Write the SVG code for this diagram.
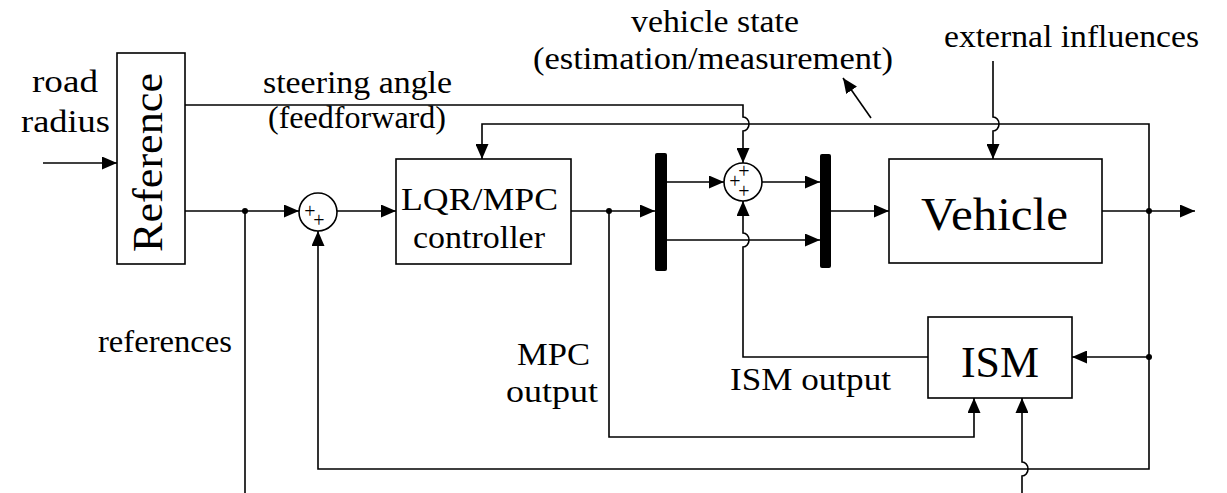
<svg xmlns="http://www.w3.org/2000/svg" width="1227" height="493" viewBox="0 0 1227 493">
<style>
.box{fill:#fff;stroke:#000;stroke-width:1.6}
.bar{fill:#000}
.ln{fill:none;stroke:#000;stroke-width:1.6}
.ar{marker-end:url(#ah)}
.t{font-family:"Liberation Serif","Times New Roman",serif;fill:#000;font-size:31px}
.pl{font-family:"Liberation Serif",serif;font-size:20px;fill:#000;text-anchor:middle}
.dot{fill:#000}
</style>
<defs>
<marker id="ah" viewBox="0 0 15 13" refX="15" refY="6.5" markerWidth="15" markerHeight="13" markerUnits="userSpaceOnUse" orient="auto">
<path d="M0,0 L15,6.5 L0,13 z" fill="#000"/>
</marker>
</defs>
<rect width="1227" height="493" fill="#fff"/>

<g id="connectors">
<path class="ln ar" d="M43,163 L117,163"/>
<path class="ln ar" d="M185,105 L743,105 L743,117 A6 7 0 0 1 743,131 L743,163"/>
<path class="ln ar" d="M185,211 L299,211"/>
<path class="ln" d="M245,211 L245,493"/>
<path class="ln ar" d="M337,211 L396,211"/>
<path class="ln ar" d="M571,211 L655,211"/>
<path class="ln ar" d="M609,211 L609,437 L974,437 L974,398"/>
<path class="ln ar" d="M667,182 L724,182"/>
<path class="ln ar" d="M667,240 L820,240"/>
<path class="ln ar" d="M762,182 L820,182"/>
<path class="ln ar" d="M831,211 L889,211"/>
<path class="ln ar" d="M1102,211 L1195,211"/>
<path class="ln ar" d="M1149,357 L1149,124 L482,124 L482,159"/>
<path class="ln ar" d="M1149,357 L1149,469 L318,469 L318,231"/>
<path class="ln ar" d="M1149,357 L1072,357"/>
<path class="ln ar" d="M928,357 L743,357 L743,247 A6 7 0 0 0 743,233 L743,201"/>
<path class="ln ar" d="M993,61 L993,117 A6 7 0 0 1 993,131 L993,159"/>
<path class="ln ar" d="M1022,493 L1022,476 A6 7 0 0 0 1022,462 L1022,398"/>
<path class="ln ar" d="M871,118 L843,78"/>
<circle class="dot" cx="245" cy="211" r="3"/>
<circle class="dot" cx="609" cy="211" r="3"/>
<circle class="dot" cx="1149" cy="211" r="3"/>
<circle class="dot" cx="1149" cy="357" r="3"/>
</g>

<g id="reference">
<rect class="box" x="117" y="53" width="68" height="211"/>
<text class="t" style="font-size:43px" text-anchor="middle" textLength="179" lengthAdjust="spacingAndGlyphs" transform="translate(162,162.5) rotate(-90)">Reference</text>
</g>

<g id="sum1">
<circle class="box" cx="318" cy="212" r="19"/>
<text class="pl" x="310" y="218">+</text>
<text class="pl" x="319" y="227">+</text>
</g>

<g id="controller">
<rect class="box" x="396" y="159" width="175" height="105"/>
<text class="t" x="401" y="210" textLength="157" lengthAdjust="spacingAndGlyphs">LQR/MPC</text>
<text class="t" x="413" y="248" textLength="132" lengthAdjust="spacingAndGlyphs">controller</text>
</g>

<g id="mux1">
<rect class="bar" x="655" y="153" width="12" height="118" rx="2"/>
</g>

<g id="sum2">
<circle class="box" cx="743" cy="182" r="19"/>
<text class="pl" x="744" y="178">+</text>
<text class="pl" x="735" y="188">+</text>
<text class="pl" x="744" y="198">+</text>
</g>

<g id="mux2">
<rect class="bar" x="820" y="154" width="11" height="114" rx="2"/>
</g>

<g id="vehicle">
<rect class="box" x="889" y="159" width="213" height="104"/>
<text class="t" style="font-size:47px" x="921" y="230" textLength="147" lengthAdjust="spacingAndGlyphs">Vehicle</text>
</g>

<g id="ism">
<rect class="box" x="928" y="317" width="144" height="81"/>
<text class="t" style="font-size:45px" x="961" y="377" textLength="78" lengthAdjust="spacingAndGlyphs">ISM</text>
</g>

<g id="labels">
<text class="t" x="32" y="92" textLength="66" lengthAdjust="spacingAndGlyphs">road</text>
<text class="t" x="21" y="132" textLength="89" lengthAdjust="spacingAndGlyphs">radius</text>
<text class="t" x="263" y="93" textLength="189" lengthAdjust="spacingAndGlyphs">steering angle</text>
<text class="t" x="268" y="128" textLength="178" lengthAdjust="spacingAndGlyphs">(feedforward)</text>
<text class="t" x="631" y="32" textLength="168" lengthAdjust="spacingAndGlyphs">vehicle state</text>
<text class="t" x="533" y="69" textLength="360" lengthAdjust="spacingAndGlyphs">(estimation/measurement)</text>
<text class="t" x="944" y="47" textLength="255" lengthAdjust="spacingAndGlyphs">external influences</text>
<text class="t" x="98" y="352" textLength="134" lengthAdjust="spacingAndGlyphs">references</text>
<text class="t" x="517" y="365" textLength="73" lengthAdjust="spacingAndGlyphs">MPC</text>
<text class="t" x="506" y="402" textLength="92" lengthAdjust="spacingAndGlyphs">output</text>
<text class="t" x="730" y="390" textLength="161" lengthAdjust="spacingAndGlyphs">ISM output</text>
</g>
</svg>
